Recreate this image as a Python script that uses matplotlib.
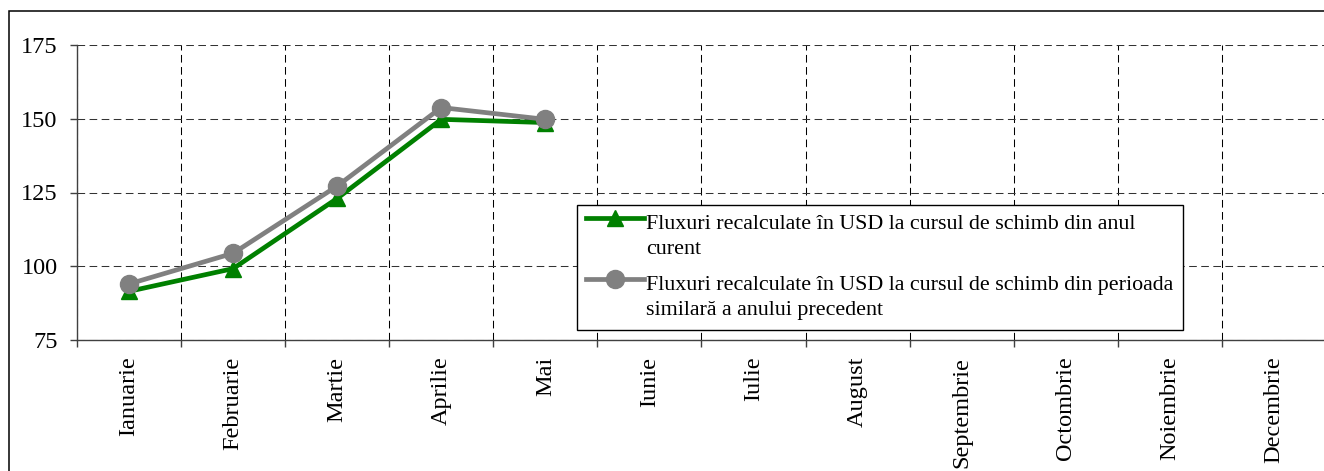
import numpy as np
import matplotlib
matplotlib.use('Agg')
import matplotlib.pyplot as plt
from matplotlib.patches import Rectangle

# Date (indici, luna corespunzatoare a anului precedent = 100)
luni = ['Ianuarie', 'Februarie', 'Martie', 'Aprilie', 'Mai', 'Iunie', 'Iulie',
        'August', 'Septembrie', 'Octombrie', 'Noiembrie', 'Decembrie']
curs_curent = [91.5, 99.2, 123.0, 149.8, 148.7]
curs_precedent = [94.0, 104.4, 127.2, 153.8, 149.8]
eticheta_curent = 'Fluxuri recalculate în USD la cursul de schimb din anul\ncurent'
eticheta_precedent = ('Fluxuri recalculate în USD la cursul de schimb din perioada\n'
                      'similară a anului precedent')
y_ticks = [75, 100, 125, 150, 175]

plt.rcParams['font.family'] = ['Liberation Serif', 'DejaVu Serif']
plt.rcParams['font.size'] = 17.5
plt.rcParams['lines.scale_dashes'] = False

W, H = 1324, 471
fig = plt.figure(figsize=(W / 100, H / 100), dpi=100)
ax = fig.add_axes([77 / W, 1 - 340 / H, 1249 / W, 295 / H])

x = np.arange(len(luni))
ax.plot(x[:len(curs_curent)], curs_curent, color='#008000', lw=3.4,
        marker='^', ms=11.5, label=eticheta_curent, zorder=3)
ax.plot(x[:len(curs_precedent)], curs_precedent, color='#808080', lw=3.4,
        marker='o', ms=13, label=eticheta_precedent, zorder=4)

ax.set_xlim(-0.5, len(luni) - 0.5)
ax.set_ylim(75, 175)
ax.set_yticks(y_ticks)

ax.set_xticks(x)
ax.set_xticklabels(luni, rotation=90)
ax.set_xticks(np.arange(-0.5, len(luni), 1), minor=True)
ax.tick_params(axis='x', which='major', length=0, pad=12)
ax.tick_params(axis='x', which='minor', length=5, width=1, color='#404040')
ax.tick_params(axis='y', length=5, width=1, color='#404040', pad=9)

dash = (0, (5.5, 3.2))
ax.grid(axis='x', which='minor', color='black', lw=0.75, linestyle=dash)
ax.grid(axis='y', which='major', color='#333333', lw=0.75, linestyle=dash)
ax.set_axisbelow(True)

for s in ['top', 'right']:
    ax.spines[s].set_visible(False)
for s in ['left', 'bottom']:
    ax.spines[s].set_color('#404040')
    ax.spines[s].set_linewidth(1)

leg = ax.legend(loc='upper left', bbox_to_anchor=(0.40, 0.4576), borderaxespad=0,
                fancybox=False, edgecolor='black', framealpha=1, fontsize=15.8,
                handlelength=2.6, handletextpad=0.1, borderpad=0.45, labelspacing=0.75)
leg.get_frame().set_linewidth(1.0)

# mut simbolul din legenda in dreptul primului rand de text
interlinie = 1.45
for t in leg.get_texts():
    t.set_linespacing(interlinie)
fig.canvas.draw()
r = fig.canvas.get_renderer()
for t, h in zip(leg.get_texts(), leg.legend_handles):
    n = t.get_text().count('\n')
    _, lp_h, lp_d = r.get_text_width_height_descent('lp', t.get_fontproperties(), ismath=False)
    pas = ((lp_h - lp_d) * interlinie + lp_d) * 72 / fig.dpi
    h.set_ydata(np.asarray(h.get_ydata()) + n * pas - 5)

# chenarul exterior
fig.patches.append(Rectangle((9 / W, -0.05), 1.1, 1 - 11 / H + 0.05,
                             transform=fig.transFigure, fill=False,
                             lw=1.1, ec='black'))

fig.savefig('out.png', dpi=100)
